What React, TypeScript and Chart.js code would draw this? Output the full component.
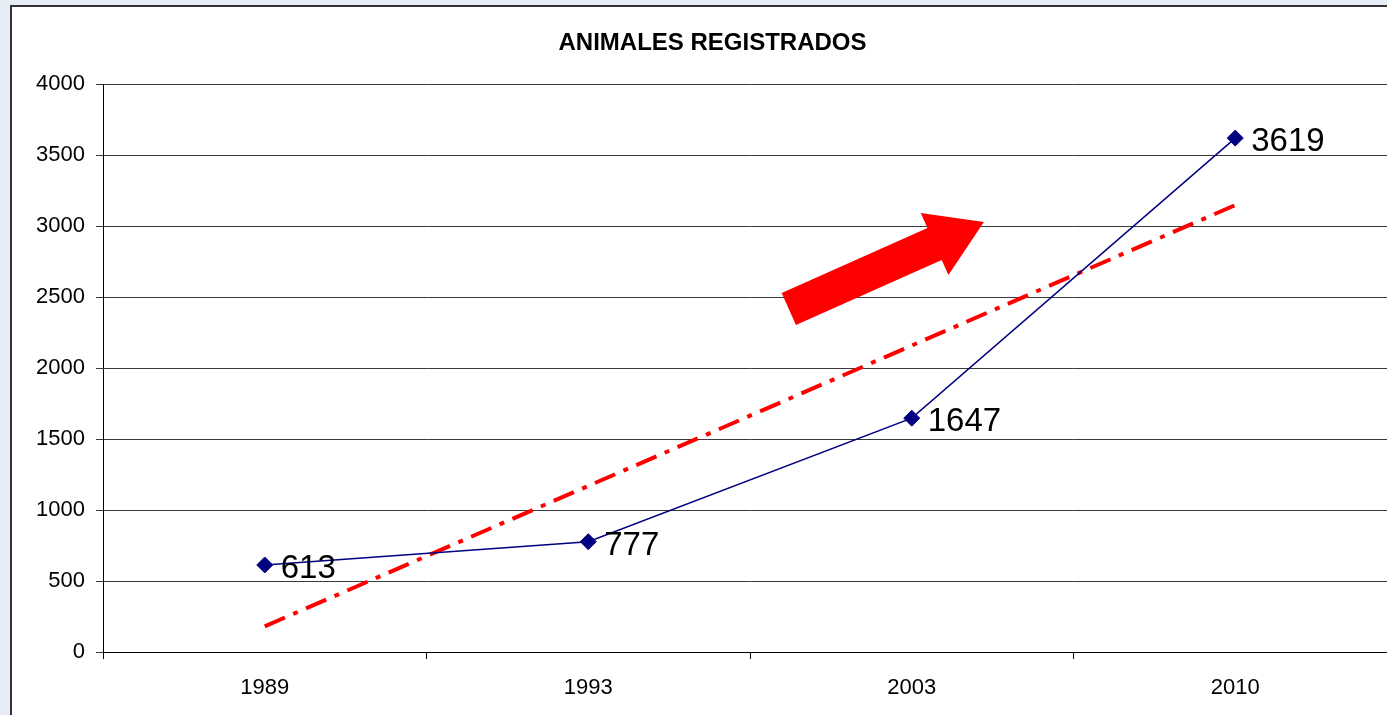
import React, { useEffect, useRef } from "react";
import { Chart, registerables } from "chart.js";

Chart.register(...registerables);

const years = ["1989", "1993", "2003", "2010"];
const animals = [613, 777, 1647, 3619];
const trend = [181, null, null, 3147];
const yMin = 0;
const yMax = 4000;
const yStep = 500;
const titleText = "ANIMALES REGISTRADOS";
// decorative arrow, in data coordinates: [category index, value]
const arrowTail = [1.62, 2415];
const arrowTip = [2.223, 3028];

const FONT = '"Liberation Sans", Arial, Helvetica, sans-serif';

const titlePlugin = {
  id: "titlePlugin",
  afterDraw(chart: any) {
    const ctx = chart.ctx;
    ctx.save();
    ctx.font = `bold 24px ${FONT}`;
    ctx.fillStyle = "#000";
    ctx.textAlign = "center";
    ctx.textBaseline = "alphabetic";
    ctx.fillText(titleText, 712.5, 50);
    ctx.restore();
  },
};

const valueLabels = {
  id: "valueLabels",
  afterDatasetsDraw(chart: any) {
    const ctx = chart.ctx;
    const meta = chart.getDatasetMeta(0);
    ctx.save();
    ctx.font = `33px ${FONT}`;
    ctx.fillStyle = "#000";
    ctx.textAlign = "left";
    ctx.textBaseline = "alphabetic";
    meta.data.forEach((pt: any, i: number) => {
      ctx.fillText(String(animals[i]), pt.x + 16, pt.y + 13);
    });
    ctx.restore();
  },
};

const arrowPlugin = {
  id: "arrowPlugin",
  afterDatasetsDraw(chart: any) {
    const ctx = chart.ctx;
    const xs = chart.scales.x;
    const ys = chart.scales.y;
    const x0 = xs.getPixelForValue(arrowTail[0]);
    const y0 = ys.getPixelForValue(arrowTail[1]);
    const x1 = xs.getPixelForValue(arrowTip[0]);
    const y1 = ys.getPixelForValue(arrowTip[1]);
    const dx = x1 - x0;
    const dy = y1 - y0;
    const len = Math.hypot(dx, dy);
    const ux = dx / len;
    const uy = dy / len;
    const nx = -uy;
    const ny = ux;
    const sw = 17.5;
    const hw = 34;
    const hl = 54;
    const bx = x1 - ux * hl;
    const by = y1 - uy * hl;
    ctx.save();
    ctx.fillStyle = "#ff0000";
    ctx.beginPath();
    ctx.moveTo(x0 + nx * sw, y0 + ny * sw);
    ctx.lineTo(bx + nx * sw, by + ny * sw);
    ctx.lineTo(bx + nx * hw, by + ny * hw);
    ctx.lineTo(x1, y1);
    ctx.lineTo(bx - nx * hw, by - ny * hw);
    ctx.lineTo(bx - nx * sw, by - ny * sw);
    ctx.lineTo(x0 - nx * sw, y0 - ny * sw);
    ctx.closePath();
    ctx.fill();
    ctx.restore();
  },
};

export default function App() {
  const ref = useRef<HTMLCanvasElement>(null);

  useEffect(() => {
    const chart = new Chart(ref.current as HTMLCanvasElement, {
      type: "line",
      data: {
        labels: years,
        datasets: [
          {
            label: "Animales",
            data: animals,
            borderColor: "#000080",
            backgroundColor: "#000080",
            borderWidth: 1.5,
            pointStyle: "rectRot",
            pointRadius: 8,
            pointBorderWidth: 1,
            pointBackgroundColor: "#000080",
            pointBorderColor: "#000080",
            tension: 0,
          },
          {
            label: "Tendencia",
            data: trend as any,
            borderColor: "#ff0000",
            borderWidth: 4,
            borderDash: [22, 9, 5, 9],
            pointRadius: 0,
            spanGaps: true,
            fill: false,
            tension: 0,
          },
        ],
      },
      options: {
        responsive: false,
        animation: false,
        devicePixelRatio: 1,
        layout: { padding: { left: 12, right: 13, top: 84, bottom: 0 } },
        plugins: {
          legend: { display: false },
          tooltip: { enabled: false },
          title: { display: false },
        },
        scales: {
          x: {
            type: "category",
            offset: true,
            grid: {
              offset: true,
              drawOnChartArea: false,
              drawTicks: true,
              tickLength: 7,
              color: "#000",
            },
            border: { color: "#000", width: 1 },
            ticks: {
              color: "#000",
              font: { family: FONT, size: 22 },
              padding: 16,
              maxRotation: 0,
            },
            afterFit: (s: any) => {
              s.height = 63;
            },
          },
          y: {
            min: yMin,
            max: yMax,
            ticks: {
              stepSize: yStep,
              color: "#000",
              font: { family: FONT, size: 22 },
              padding: 11,
              callback: (v: any) => String(v),
            },
            grid: { color: "#3a3a3a", tickLength: 7, lineWidth: 1 },
            border: { color: "#000", width: 1 },
            afterFit: (s: any) => {
              s.width = 91;
            },
          },
        },
      },
      plugins: [arrowPlugin, valueLabels, titlePlugin],
    });
    return () => chart.destroy();
  }, []);

  return (
    <div
      style={{
        position: "fixed",
        left: 0,
        top: 0,
        width: 1387,
        height: 715,
        overflow: "hidden",
        background: "#e5ecf6",
      }}
    >
      <div
        style={{
          position: "absolute",
          left: 10,
          top: 5,
          width: 1420,
          height: 760,
          background: "#fff",
          border: "2px solid #333",
        }}
      />
      <canvas
        ref={ref}
        width={1410}
        height={715}
        style={{ position: "absolute", left: 0, top: 0, width: 1410, height: 715 }}
      />
    </div>
  );
}
